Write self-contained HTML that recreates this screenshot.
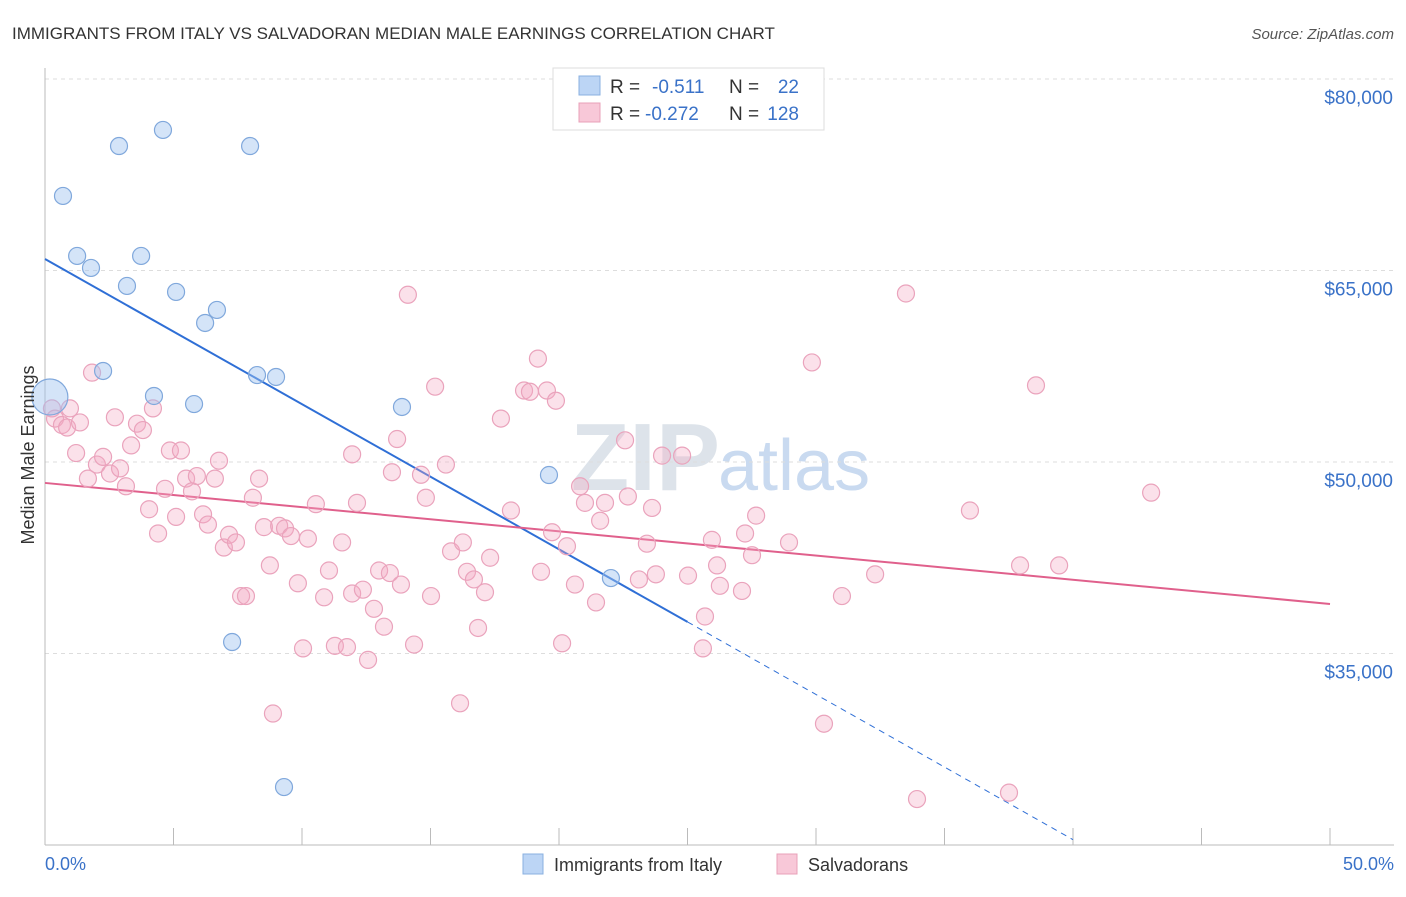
<!DOCTYPE html>
<html><head><meta charset="utf-8"><style>
body{margin:0;background:#fff;font-family:"Liberation Sans",sans-serif;}
svg text{font-family:"Liberation Sans",sans-serif;}
</style></head><body>
<svg id="c" width="1406" height="892" xmlns="http://www.w3.org/2000/svg">
<text x="12" y="39" font-size="17" fill="#333">IMMIGRANTS FROM ITALY VS SALVADORAN MEDIAN MALE EARNINGS CORRELATION CHART</text>
<text x="1394" y="39" font-size="15" fill="#555" font-style="italic" text-anchor="end">Source: ZipAtlas.com</text>
<text x="720" y="490" font-size="96" fill="#dde3ea" text-anchor="end" font-family="Liberation Serif" font-weight="bold">ZIP</text>
<text x="718" y="490" font-size="72" fill="#c9daf0">atlas</text>
<g id="grid"></g><g id="axes"></g><g id="lines"></g><g id="pts"></g>
<text transform="translate(34,455) rotate(-90)" font-size="18" fill="#333" text-anchor="middle">Median Male Earnings</text>
<text x="45" y="870" font-size="18" fill="#3a72c8">0.0%</text>
<text x="1394" y="870" font-size="18" fill="#3a72c8" text-anchor="end">50.0%</text>
<g>
<rect x="553" y="68" width="271" height="62" fill="#fff" stroke="#ddd"/>
<rect x="579" y="76" width="21" height="19" fill="#bcd5f5" stroke="#8ab0e0"/>
<rect x="579" y="103" width="21" height="19" fill="#f8c8d8" stroke="#e8a0b8"/>
<text x="610" y="93" font-size="19" fill="#333">R = </text><text x="652" y="93" font-size="19" fill="#3a72c8">-0.511</text>
<text x="729" y="93" font-size="19" fill="#333">N = </text><text x="799" y="93" font-size="19" fill="#3a72c8" text-anchor="end">22</text>
<text x="610" y="120" font-size="19" fill="#333">R = </text><text x="645" y="120" font-size="19" fill="#3a72c8">-0.272</text>
<text x="729" y="120" font-size="19" fill="#333">N = </text><text x="799" y="120" font-size="19" fill="#3a72c8" text-anchor="end">128</text>
</g>
<g>
<rect x="523" y="854" width="20" height="20" fill="#bcd5f5" stroke="#8ab0e0"/>
<text x="554" y="871" font-size="18" fill="#333">Immigrants from Italy</text>
<rect x="777" y="854" width="20" height="20" fill="#f8c8d8" stroke="#e8a0b8"/>
<text x="808" y="871" font-size="18" fill="#333">Salvadorans</text>
</g>
</svg>
<script>
const yTicks=[35000,50000,65000,80000];
const yTickLabels=["$35,000","$50,000","$65,000","$80,000"];
const xTicks=[0,5,10,15,20,25,30,35,40,45,50];
const italyX=[0.19,0.70,2.88,4.59,7.98,1.25,1.79,3.74,3.19,5.10,6.69,6.23,2.26,8.25,8.99,4.24,5.80,13.89,19.61,22.02,7.28,9.30];
const italyY=[55.09,70.84,74.75,76.01,74.75,66.14,65.2,66.14,63.79,63.32,61.91,60.89,57.13,56.81,56.66,55.17,54.54,54.31,48.98,40.91,35.9,24.54];
const salvX=[0.27,0.39,0.66,0.86,0.97,1.36,1.21,1.67,1.83,2.02,2.26,2.53,2.72,2.92,3.15,3.35,3.58,3.81,4.05,4.20,4.40,4.67,4.86,5.10,5.29,5.49,5.72,5.91,6.15,6.34,6.61,6.77,6.96,7.16,7.43,7.63,7.82,8.09,8.33,8.52,8.75,8.87,9.11,9.34,9.57,9.84,10.04,10.23,10.54,10.86,11.05,11.28,11.56,11.75,11.95,12.14,11.95,12.37,12.57,12.80,13.00,13.19,13.42,13.70,13.50,13.85,14.12,14.36,14.63,14.82,15.02,15.18,15.60,15.80,16.26,16.15,16.42,16.69,16.85,17.12,17.32,17.74,18.13,18.64,18.87,19.18,19.30,19.53,19.73,19.88,20.12,20.31,20.62,20.82,21.01,21.44,21.60,21.79,22.57,22.68,23.11,23.42,23.62,23.77,24.01,24.79,25.02,25.60,25.68,25.95,26.15,26.26,27.12,27.24,27.51,27.67,28.95,29.84,30.31,31.01,32.30,33.50,33.93,35.99,37.51,37.94,38.56,39.46,43.04];
const salvY=[54.2,53.4,52.9,52.7,54.2,53.1,50.7,48.7,57.0,49.8,50.4,49.1,53.5,49.5,48.1,51.3,53.0,52.5,46.3,54.2,44.4,47.9,50.9,45.7,50.9,48.7,47.7,48.9,45.9,45.1,48.7,50.1,43.3,44.3,43.7,39.5,39.5,47.2,48.7,44.9,41.9,30.3,45.0,44.8,44.2,40.5,35.4,44.0,46.7,39.4,41.5,35.6,43.7,35.5,50.6,46.8,39.7,40.0,34.5,38.5,41.5,37.1,41.3,51.8,49.2,40.4,63.1,35.7,49.0,47.2,39.5,55.9,49.8,43.0,43.7,31.1,41.4,40.8,37.0,39.8,42.5,53.4,46.2,55.6,55.5,58.1,41.4,55.6,44.5,54.8,35.8,43.4,40.4,48.1,46.8,39.0,45.4,46.8,51.7,47.3,40.8,43.6,46.4,41.2,50.5,50.5,41.1,35.4,37.9,43.9,41.9,40.3,39.9,44.4,42.7,45.8,43.7,57.8,29.5,39.5,41.2,63.2,23.6,46.2,24.1,41.9,56.0,41.9,47.6];
const italyTrend=[65.9,-1.137]; // intercept (k$), slope per %
const salvTrend=[48.36,-0.1896];
const sx=v=>45+v*25.7;
const sy=k=>462-(k-50)*191.5/15;
const NS="http://www.w3.org/2000/svg";
function mk(t,a,p){const e=document.createElementNS(NS,t);for(const k in a)e.setAttribute(k,a[k]);p.appendChild(e);return e;}
const g=document.getElementById('grid'),ax=document.getElementById('axes'),ln=document.getElementById('lines'),pt=document.getElementById('pts');
yTicks.forEach((v,i)=>{const y=sy(v/1000);
 const l=mk('line',{x1:45,x2:1394,y1:y,y2:y,stroke:'#ddd','stroke-dasharray':'4,4'},g);
 
 
 const t=mk('text',{x:1393,y:y+25,'font-size':19,fill:'#3a72c8','text-anchor':'end'},g);t.textContent=yTickLabels[i];
 
 });
const base=mk('line',{x1:45,x2:1394,y1:845,y2:845,stroke:'#bbb'},ax);


const yl=mk('line',{x1:45,x2:45,y1:68,y2:845,stroke:'#bbb'},ax);


xTicks.forEach(v=>{const x=sx(v);const t=mk('line',{x1:x,x2:x,y1:828,y2:845,stroke:'#bbb'},ax);
 
 });
function pts(X,Y,fill,stroke,name){X.forEach((x,i)=>{const r=(name==='italy-point'&&i===0)?18:8.5;
 const c=mk('circle',{cx:sx(x),cy:sy(Y[i]),r:r,fill:fill,stroke:stroke,'stroke-width':1.2},pt);
 
 });}
pts(salvX,salvY,'rgba(244,170,196,0.35)','#eaa3bc','salvadoran-point');
pts(italyX,italyY,'rgba(160,195,240,0.45)','#80a8dc','italy-point');
const tb=(a,x)=>a[0]+a[1]*x;
const l1=mk('line',{x1:sx(0),y1:sy(tb(italyTrend,0)),x2:sx(25),y2:sy(tb(italyTrend,25)),stroke:'#2f6fd6','stroke-width':2},ln);


const l2=mk('line',{x1:sx(25),y1:sy(tb(italyTrend,25)),x2:sx(40),y2:sy(tb(italyTrend,40)),stroke:'#2f6fd6','stroke-width':1,'stroke-dasharray':'6,5'},ln);


const l3=mk('line',{x1:sx(0),y1:sy(tb(salvTrend,0)),x2:sx(50),y2:sy(tb(salvTrend,50)),stroke:'#e0608c','stroke-width':2},ln);


</script>
</body></html>
